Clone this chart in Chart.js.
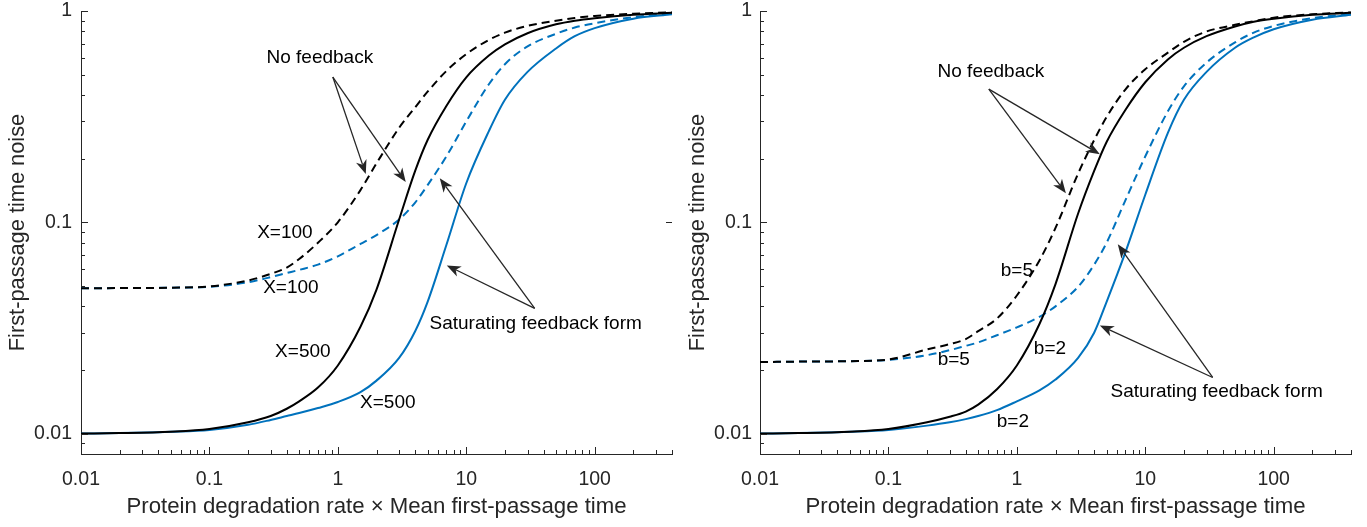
<!DOCTYPE html>
<html><head><meta charset="utf-8">
<script src="https://cdn.jsdelivr.net/npm/chart.js@4.4.1/dist/chart.umd.min.js"></script>
<style>
html,body{margin:0;padding:0;background:#fff;}
#wrap{position:relative;width:1367px;height:527px;overflow:hidden;}
.panel{position:absolute;top:0;height:527px;}
#p1{left:0;width:683px;}
#p2{left:683px;width:684px;}
canvas{display:block;}
</style></head><body>
<div id="wrap">
  <div class="panel" id="p1"><canvas id="c1" width="683" height="527"></canvas></div>
  <div class="panel" id="p2"><canvas id="c2" width="684" height="527"></canvas></div>
</div>
<script>
// ---------- data ----------
const xValues = [0.01, 0.02, 0.05, 0.1, 0.2, 0.3, 0.4, 0.5, 0.7, 1, 1.5, 2, 3, 4, 5, 7, 10, 15, 20, 30, 50, 70, 100, 200, 400];
const xTickLabels = ['0.01', '0.1', '1', '10', '100'];
const yTickLabels = ['0.01', '0.1', '1'];

// Left panel (X = 100 / X = 500)
const leftNoFeedbackX100 = [0.0487, 0.0488, 0.049, 0.0497, 0.053, 0.057, 0.061, 0.067, 0.080, 0.100, 0.142, 0.19, 0.28, 0.35, 0.415, 0.52, 0.625, 0.73, 0.79, 0.85, 0.90, 0.927, 0.947, 0.97, 0.985];
const leftNoFeedbackX500 = [0.0100, 0.01005, 0.0102, 0.0105, 0.0113, 0.0121, 0.0131, 0.0142, 0.0165, 0.021, 0.032, 0.048, 0.103, 0.175, 0.245, 0.355, 0.485, 0.615, 0.695, 0.785, 0.865, 0.90, 0.925, 0.96, 0.98];
const leftSaturatingX100 = [0.0487, 0.0488, 0.049, 0.0495, 0.052, 0.055, 0.0575, 0.0595, 0.063, 0.069, 0.079, 0.087, 0.103, 0.124, 0.15, 0.205, 0.30, 0.45, 0.56, 0.68, 0.78, 0.835, 0.875, 0.935, 0.97];
const leftSaturatingX500 = [0.0100, 0.01005, 0.0102, 0.0104, 0.0110, 0.0116, 0.0121, 0.0125, 0.0132, 0.0141, 0.0157, 0.0178, 0.0228, 0.0305, 0.042, 0.078, 0.153, 0.27, 0.38, 0.515, 0.665, 0.76, 0.83, 0.92, 0.965];

// Right panel (b = 5 / b = 2)
const rightNoFeedbackB5 = [0.0218, 0.0219, 0.022, 0.0224, 0.025, 0.0265, 0.028, 0.0305, 0.035, 0.045, 0.066, 0.094, 0.17, 0.245, 0.315, 0.425, 0.53, 0.635, 0.715, 0.80, 0.86, 0.895, 0.93, 0.965, 0.985];
const rightNoFeedbackB2 = [0.0100, 0.01005, 0.0102, 0.0105, 0.0113, 0.0120, 0.0127, 0.0137, 0.0162, 0.021, 0.033, 0.051, 0.11, 0.175, 0.24, 0.34, 0.46, 0.59, 0.67, 0.76, 0.845, 0.89, 0.92, 0.96, 0.98];
const rightSaturatingB5 = [0.0218, 0.0219, 0.022, 0.0223, 0.0235, 0.0248, 0.026, 0.027, 0.0292, 0.0318, 0.0357, 0.040, 0.0495, 0.063, 0.080, 0.127, 0.205, 0.335, 0.44, 0.57, 0.71, 0.79, 0.85, 0.925, 0.965];
const rightSaturatingB2 = [0.0100, 0.01005, 0.0102, 0.0104, 0.0109, 0.0113, 0.0117, 0.0121, 0.0129, 0.0142, 0.016, 0.018, 0.0228, 0.030, 0.042, 0.072, 0.135, 0.265, 0.38, 0.515, 0.67, 0.75, 0.82, 0.91, 0.96];

// ---------- annotations (in data coordinates) ----------
const leftTexts = [
  {text: 'No feedback', at: [0.724, 0.599]},
  {text: 'X=100', at: [0.387, 0.0887]},
  {text: 'X=100', at: [0.431, 0.0492]},
  {text: 'X=500', at: [0.534, 0.0245]},
  {text: 'X=500', at: [2.45, 0.01402]},
  {text: 'Saturating feedback form', at: [34.7, 0.0329]}
];
const leftArrows = [
  {from: [0.914, 0.487], to: [1.65, 0.169]},
  {from: [0.914, 0.487], to: [3.38, 0.155]},
  {from: [34.1, 0.0391], to: [6.22, 0.1616]},
  {from: [34.1, 0.0391], to: [7.05, 0.0625]}
];
const rightTexts = [
  {text: 'No feedback', at: [0.628, 0.514]},
  {text: 'b=5', at: [1.0, 0.0592]},
  {text: 'b=5', at: [0.323, 0.0224]},
  {text: 'b=2', at: [1.81, 0.0253]},
  {text: 'b=2', at: [0.931, 0.0114]},
  {text: 'Saturating feedback form', at: [36.0, 0.0158]}
];
const rightArrows = [
  {from: [0.605, 0.427], to: [2.41, 0.1373]},
  {from: [0.605, 0.427], to: [4.43, 0.210]},
  {from: [33.5, 0.01842], to: [6.11, 0.0787]},
  {from: [33.5, 0.01842], to: [4.43, 0.0325]}
];

// ---------- styling ----------
const FONT = '"Liberation Sans", Arial, Helvetica, sans-serif';
const AXIS_COLOR = '#262626';
const BLACK = '#000000';
const BLUE = '#0072BD';
Chart.defaults.font.family = FONT;
Chart.defaults.color = AXIS_COLOR;

const isPow10 = v => Math.abs(Math.log10(v) - Math.round(Math.log10(v))) < 1e-9;

function logTicks(min, max) {
  const out = [];
  for (let e = Math.floor(Math.log10(min)); e <= Math.ceil(Math.log10(max)); e++) {
    for (let m = 1; m <= 9; m++) {
      const v = parseFloat((m * Math.pow(10, e)).toPrecision(6));
      if (v >= min - 1e-12 && v <= max + 1e-12) out.push({value: v});
    }
  }
  return out;
}

const tickMarkPlugin = {
  id: 'inTicks',
  afterDraw(chart, args, opts) {
    const {ctx, chartArea: a, scales: {x, y}} = chart;
    ctx.save();
    ctx.strokeStyle = AXIS_COLOR;
    ctx.lineWidth = 1;
    ctx.beginPath();
    x.ticks.forEach(t => {
      const px = Math.round(x.getPixelForValue(t.value)) + 0.5;
      const len = isPow10(t.value) ? 7 : 4;
      ctx.moveTo(px, a.bottom);
      ctx.lineTo(px, a.bottom - len);
    });
    y.ticks.forEach(t => {
      const py = Math.round(y.getPixelForValue(t.value)) + 0.5;
      const len = isPow10(t.value) ? 7 : 4;
      ctx.moveTo(a.left, py);
      ctx.lineTo(a.left + len, py);
    });
    if (opts && opts.rightStub) {
      const py = Math.round(y.getPixelForValue(opts.rightStub)) + 0.5;
      ctx.moveTo(a.right - 6, py);
      ctx.lineTo(a.right, py);
    }
    ctx.stroke();
    ctx.restore();
  }
};

const annotPlugin = {
  id: 'annot',
  afterDatasetsDraw(chart, args, opts) {
    const {ctx, scales: {x, y}} = chart;
    const P = p => [x.getPixelForValue(p[0]), y.getPixelForValue(p[1])];
    ctx.save();
    (opts.arrows || []).forEach(ar => {
      const [x0, y0] = P(ar.from), [x1, y1] = P(ar.to);
      const ang = Math.atan2(y1 - y0, x1 - x0);
      const c = Math.cos(ang), s = Math.sin(ang);
      const L = 14, W = 5.5, notch = 4;
      ctx.strokeStyle = AXIS_COLOR;
      ctx.lineWidth = 1.3;
      ctx.beginPath();
      ctx.moveTo(x0, y0);
      ctx.lineTo(x1 - c * (L - notch), y1 - s * (L - notch));
      ctx.stroke();
      const bx = x1 - c * L, by = y1 - s * L;
      ctx.fillStyle = AXIS_COLOR;
      ctx.beginPath();
      ctx.moveTo(x1, y1);
      ctx.lineTo(bx - s * W, by + c * W);
      ctx.lineTo(x1 - c * (L - notch), y1 - s * (L - notch));
      ctx.lineTo(bx + s * W, by - c * W);
      ctx.closePath();
      ctx.fill();
    });
    ctx.fillStyle = '#000';
    ctx.font = '19px ' + FONT;
    ctx.textAlign = 'center';
    ctx.textBaseline = 'middle';
    (opts.texts || []).forEach(t => {
      const [px, py] = P(t.at);
      ctx.fillText(t.text, px, py);
    });
    ctx.restore();
  }
};

function series(values, color, dashed) {
  return {
    data: xValues.map((x, i) => ({x, y: values[i]})),
    borderColor: color,
    borderWidth: 2,
    borderDash: dashed ? [8, 5] : [],
    pointRadius: 0,
    fill: false,
    cubicInterpolationMode: 'monotone'
  };
}

function makeChart(id, datasets, cfg) {
  return new Chart(document.getElementById(id), {
    type: 'line',
    data: {datasets},
    options: {
      responsive: false,
      animation: false,
      events: [],
      layout: {autoPadding: false, padding: {left: 0, top: 11, right: cfg.padRight, bottom: 0}},
      plugins: {
        legend: {display: false},
        tooltip: {enabled: false},
        annot: {texts: cfg.texts, arrows: cfg.arrows},
        inTicks: {rightStub: cfg.rightStub}
      },
      scales: {
        x: {
          type: 'logarithmic',
          min: 0.01, max: 400,
          afterBuildTicks: s => { s.ticks = logTicks(0.01, 400); },
          afterFit: s => { s.height = 73; s.paddingLeft = 0; s.paddingRight = 0; },
          grid: {display: false, drawTicks: false},
          border: {display: true, color: AXIS_COLOR, width: 1},
          ticks: {
            autoSkip: false, maxRotation: 0, minRotation: 0, padding: 14,
            color: AXIS_COLOR, font: {size: 19.5},
            callback: v => { const l = xTickLabels.find(t => Math.abs(Number(t) - v) < 1e-9); return l || ''; }
          },
          title: {display: true, text: 'Protein degradation rate \u00D7 Mean first-passage time',
                  color: AXIS_COLOR, font: {size: 22.2}, padding: {top: 0, bottom: 7}}
        },
        y: {
          type: 'logarithmic',
          min: 0.008, max: 1,
          afterBuildTicks: s => { s.ticks = logTicks(0.008, 1); },
          afterFit: s => { s.width = cfg.yWidth; s.paddingTop = 0; s.paddingBottom = 0; },
          grid: {display: false, drawTicks: false},
          border: {display: true, color: AXIS_COLOR, width: 1},
          ticks: {
            autoSkip: false, padding: cfg.yTickPad,
            color: AXIS_COLOR, font: {size: 19.5},
            callback: v => { const l = yTickLabels.find(t => Math.abs(Number(t) - v) < 1e-9); return l || ''; }
          },
          title: {display: true, text: 'First-passage time noise',
                  color: AXIS_COLOR, font: {size: 21.8}, padding: {top: cfg.yTitlePad, bottom: 0}}
        }
      }
    },
    plugins: [annotPlugin, tickMarkPlugin]
  });
}

makeChart('c1', [
  series(leftNoFeedbackX100, BLACK, true),
  series(leftNoFeedbackX500, BLACK, false),
  series(leftSaturatingX100, BLUE, true),
  series(leftSaturatingX500, BLUE, false)
], {padRight: 11, yWidth: 81, yTickPad: 9, yTitlePad: 5, texts: leftTexts, arrows: leftArrows, rightStub: 0.1});

makeChart('c2', [
  series(rightNoFeedbackB5, BLACK, true),
  series(rightNoFeedbackB2, BLACK, false),
  series(rightSaturatingB5, BLUE, true),
  series(rightSaturatingB2, BLUE, false)
], {padRight: 16, yWidth: 77, yTickPad: 8, yTitlePad: 2, texts: rightTexts, arrows: rightArrows, rightStub: null});
</script>
</body></html>
